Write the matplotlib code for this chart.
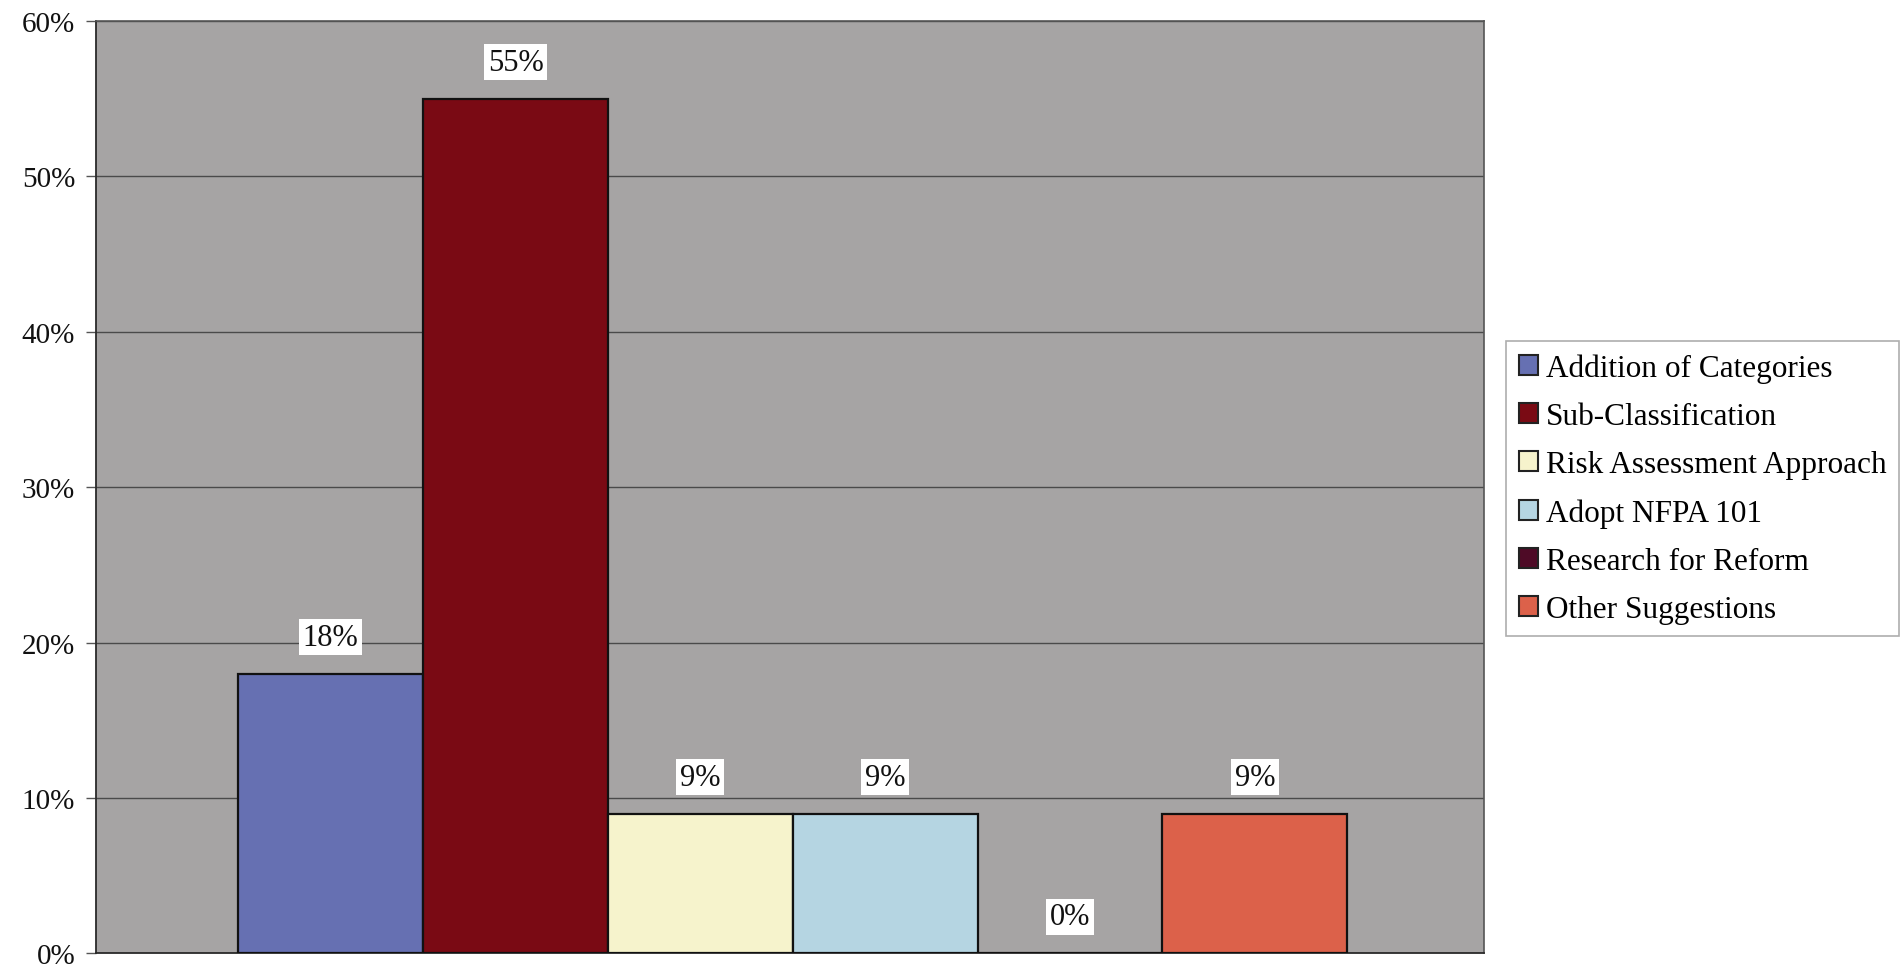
import matplotlib
matplotlib.use("Agg")
import matplotlib.pyplot as plt
from matplotlib.ticker import FuncFormatter, MultipleLocator

# Survey responses: share of respondents favouring each option
categories = [
    "Addition of Categories",
    "Sub-Classification",
    "Risk Assessment Approach",
    "Adopt NFPA 101",
    "Research for Reform",
    "Other Suggestions",
]
shares = [18, 55, 9, 9, 0, 9]
value_labels = ["18%", "55%", "9%", "9%", "0%", "9%"]
bar_colors = ["#6670B2", "#7A0A14", "#F6F3CC", "#B5D5E2", "#4E0A26", "#DC614A"]

plt.rcParams["font.family"] = ["Liberation Serif", "DejaVu Serif"]

fig = plt.figure(figsize=(19.04, 9.70), dpi=100)
ax = fig.add_axes([0.0504, 0.0160, 0.7290, 0.9613])
ax.set_facecolor("#A6A4A4")

positions = list(range(len(categories)))
bars = ax.bar(positions, shares, width=1.0, color=bar_colors,
              edgecolor="#111111", linewidth=1.6, label=categories, zorder=3)

# percentage labels in white boxes above each bar
for pos, val, txt in zip(positions, shares, value_labels):
    ax.annotate(txt, xy=(pos, val), xytext=(0, 22), textcoords="offset pixels",
                ha="center", va="bottom", fontsize=22, color="#111111",
                bbox=dict(boxstyle="square,pad=0.12", facecolor="white",
                          edgecolor="none"), zorder=5)

ax.set_xlim(-1.27, 6.24)
ax.set_ylim(0, 60)
ax.yaxis.set_major_locator(MultipleLocator(10))
ax.yaxis.set_major_formatter(FuncFormatter(lambda v, _: f"{v:.0f}%"))
ax.set_xticks([])
ax.grid(axis="y", color="#4A4A4A", linewidth=1.0, zorder=1)
ax.tick_params(axis="y", direction="out", length=7, width=1.0,
               color="#555555", labelsize=21, pad=8, labelcolor="#111111")
for side in ["left", "bottom"]:
    ax.spines[side].set_color("#2A2A2A")
    ax.spines[side].set_linewidth(1.3)
for side in ["top", "right"]:
    ax.spines[side].set_color("#555555")
    ax.spines[side].set_linewidth(1.2)

leg = fig.legend(handles=bars, labels=categories, loc="upper left",
                 bbox_to_anchor=(0.791, 0.6474), bbox_transform=fig.transFigure,
                 fontsize=22.5, frameon=True, fancybox=False, borderaxespad=0,
                 handlelength=0.62, handleheight=0.62, handletextpad=0.25,
                 labelspacing=0.61, borderpad=0.4)
leg.get_frame().set_edgecolor("#9A9A9A")
leg.get_frame().set_linewidth(1.2)
for h in leg.legend_handles:
    h.set_edgecolor("#222222")
    h.set_linewidth(1.5)

fig.savefig("out.png", dpi=100, facecolor="white")
